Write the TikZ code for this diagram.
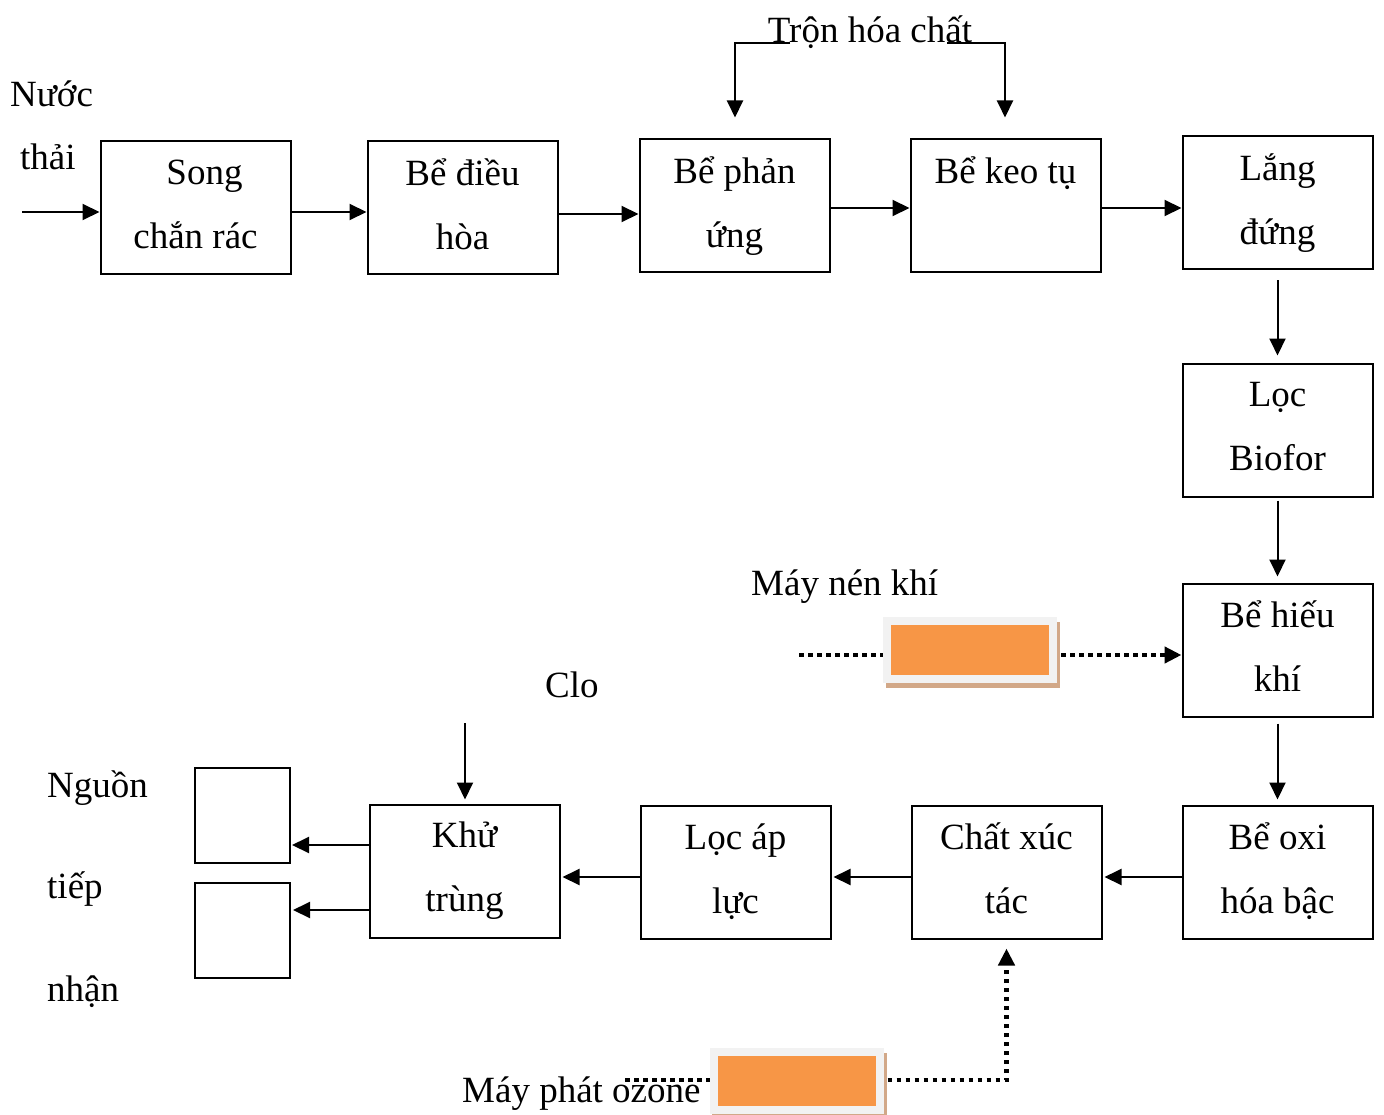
\documentclass[tikz,border=0pt]{standalone}
\usepackage{fontspec}
\setmainfont{Liberation Serif}
\usetikzlibrary{arrows.meta,backgrounds}
\definecolor{accent}{HTML}{F79646}
\definecolor{framegray}{HTML}{F2F2F2}
\definecolor{shadowtan}{HTML}{D2A888}

\begin{document}
\begin{tikzpicture}[x=1pt,y=-1pt,
  every node/.style={font=\fontsize{37}{64}\selectfont},
  stage/.style={draw, line width=2pt, minimum width=190pt, minimum height=133pt, align=center, inner sep=0pt,
    execute at begin node=\rule{0pt}{33pt}, execute at end node=\rule[-7pt]{0pt}{7pt}},
  sink/.style={draw, line width=2pt, minimum width=95pt, minimum height=95pt, inner sep=0pt},
  tag/.style={inner sep=0pt, anchor=base west},
  flow/.style={line width=2pt, -{Triangle[length=17pt,width=16pt]}},
  air/.style={line width=4.5pt, dash pattern=on 4.5pt off 4.5pt},
  airflow/.style={air, -{Triangle[length=17pt,width=16pt]}},
  machine/.style={draw=framegray, line width=8pt, fill=accent, minimum width=166pt, minimum height=58pt, inner sep=0pt},
]
\useasboundingbox (0,0) rectangle (1384,1115);

% treatment stages
\node[stage] (song) at (195.5,208) {\rule{18pt}{0pt}Song\\chắn rác};
\node[stage] (dieu) at (462.5,208) {Bể điều\\hòa};
\node[stage] (phan) at (734.5,206) {Bể phản\\ứng};
\node[stage] (keo)  at (1005.5,206) {Bể keo tụ\\\mbox{}};
\node[stage] (lang) at (1277.5,203) {Lắng\\đứng};
\node[stage] (loc)  at (1277.5,430) {Lọc\\Biofor};
\node[stage] (hieu) at (1277.5,650) {Bể hiếu\\khí};
\node[stage] (oxi)  at (1277.5,872) {Bể oxi\\hóa bậc};
\node[stage] (xuc)  at (1006.5,872) {Chất xúc\\tác};
\node[stage] (apluc) at (735.5,872) {Lọc áp\\lực};
\node[stage] (khu)  at (464.5,871) {Khử\\trùng};
\node[sink] (nhan1) at (242.5,815.5) {};
\node[sink] (nhan2) at (242.5,930.5) {};

% free labels
\node[tag] (nuoc) at (10,107) {Nước};
\node[tag] (thai) at (20,170) {thải};
\node[tag] (nen) at (751,595) {Máy nén khí};
\node[tag] (clo) at (545,697) {Clo};
\node[tag] (nguon) at (47,797) {Nguồn};
\node[tag] (tiep) at (47,898) {tiếp};
\node[tag] (nhan) at (47,1001) {nhận};
\node[tag] (ozone) at (462,1102) {Máy phát ozone};
\node[inner sep=0pt, anchor=base] (tron) at (870,43) {Trộn hóa chất};

% main flow
\coordinate (inflow) at (22,212);
\draw[flow] (inflow) -- (song.west |- inflow);
\draw[flow] (song.east |- 0,212) -- (dieu.west |- 0,212);
\draw[flow] (dieu.east |- 0,214) -- (phan.west |- 0,214);
\draw[flow] (phan.east |- 0,208) -- (keo.west |- 0,208);
\draw[flow] (keo.east |- 0,208) -- (lang.west |- 0,208);
\draw[flow, shorten <=10pt, shorten >=7pt] (lang.south) -- (loc.north);
\draw[flow, shorten <=3pt, shorten >=6pt] (loc.south) -- (hieu.north);
\draw[flow, shorten <=6pt, shorten >=5pt] (hieu.south) -- (oxi.north);
\draw[flow, shorten >=2pt] (oxi.west |- 0,877) -- (xuc.east |- 0,877);
\draw[flow, shorten >=2pt] (xuc.west |- 0,877) -- (apluc.east |- 0,877);
\draw[flow, shorten >=2pt] (apluc.west |- 0,877) -- (khu.east |- 0,877);
\draw[flow, shorten >=1pt] (khu.west |- 0,845) -- (nhan1.east |- 0,845);
\draw[flow, shorten >=2pt] (khu.west |- 0,910) -- (nhan2.east |- 0,910);

% chlorine dosing
\coordinate (cloin) at (465,723);
\draw[flow, shorten >=4pt] (cloin) -- (cloin |- khu.north);

% chemical mixing
\coordinate (mixL) at (735,43);
\coordinate (mixLa) at (790,43);
\coordinate (mixR) at (1005,43);
\coordinate (mixRa) at (947,43);
\draw[flow, shorten >=21pt] (mixLa) -- (mixL) -- (mixL |- phan.north);
\draw[flow, shorten >=21pt] (mixRa) -- (mixR) -- (mixR |- keo.north);

% air compressor
\fill[shadowtan] (886,622) rectangle (1060,688);
\node[machine] (comp) at (970,650) {};
\coordinate (airin) at (799,655);
\begin{scope}[on background layer]
  \draw[air] (airin) -- (comp.center |- airin);
\end{scope}
\draw[airflow, shorten <=4pt] (comp.east |- airin) -- (hieu.west |- airin);

% ozone generator
\fill[shadowtan] (712,1053) rectangle (887,1119);
\node[machine] (oz) at (796.5,1081) {};
\coordinate (ozin) at (625,1080);
\begin{scope}[on background layer]
  \draw[air] (ozin) -- (oz.center |- ozin);
\end{scope}
\draw[airflow, shorten <=4pt, shorten >=9pt] (oz.east |- ozin) -| (xuc.south);
\end{tikzpicture}
\end{document}
